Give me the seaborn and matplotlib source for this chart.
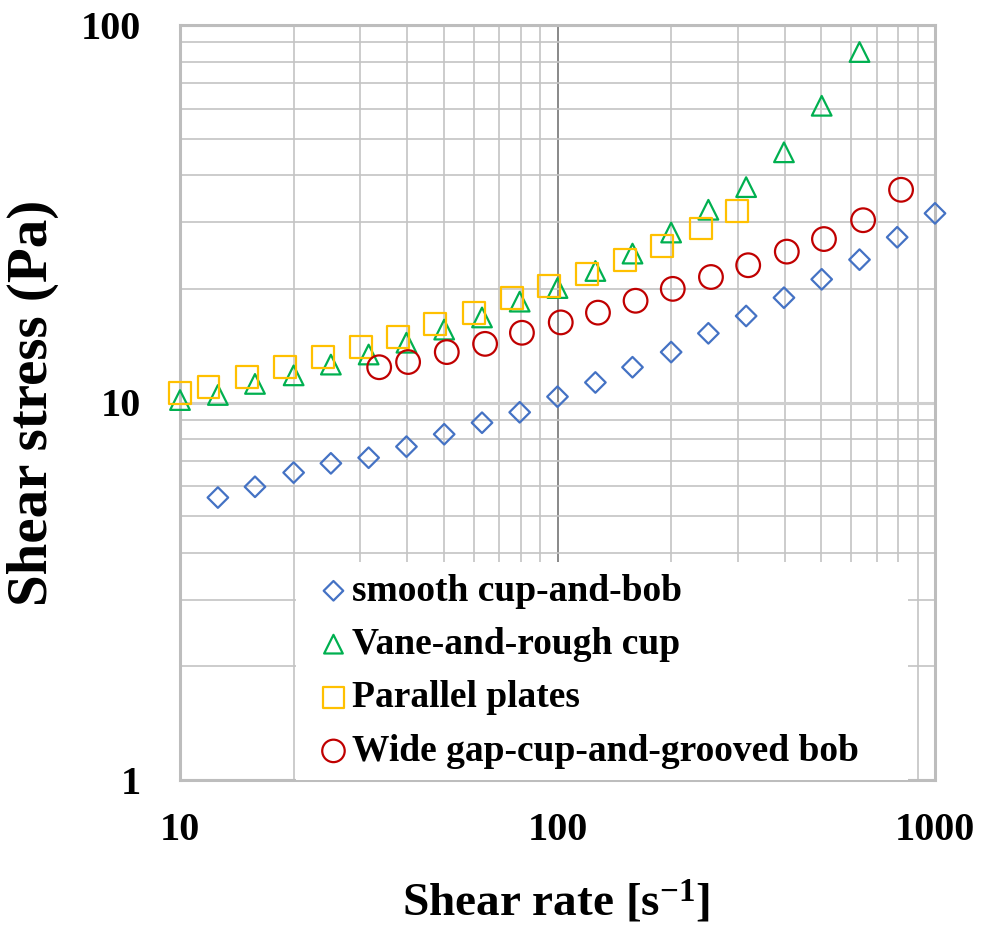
import numpy as np
import pandas as pd
import matplotlib
matplotlib.use("Agg")
import matplotlib.pyplot as plt
import seaborn as sns
from matplotlib.ticker import FixedLocator, NullFormatter

# ---------------- data ----------------
smooth_x = [12.6, 15.8, 20.0, 25.1, 31.6, 39.8, 50.1, 63.1, 79.4, 100,
            126, 158, 200, 251, 316, 398, 501, 631, 794, 1000]
smooth_y = [5.60, 5.98, 6.52, 6.90, 7.14, 7.64, 8.24, 8.84, 9.42, 10.36,
            11.3, 12.4, 13.6, 15.25, 16.95, 18.95, 21.2, 23.9, 27.4, 31.7]

vane_x = [10.0, 12.6, 15.8, 20.0, 25.1, 31.6, 39.8, 50.1, 63.1, 79.4,
          100, 126, 158, 200, 251, 316, 398, 501, 631]
vane_y = [10.15, 10.47, 11.2, 11.8, 12.6, 13.4, 14.4, 15.6, 16.8, 18.5,
          20.1, 22.3, 24.8, 28.2, 32.4, 37.2, 46.0, 61.1, 84.8]

plates_x = [10.0, 11.9, 15.05, 19.0, 23.9, 30.2, 37.8, 47.4, 60.1, 75.8,
            95.0, 119.7, 151, 189, 240, 299]
plates_y = [10.6, 11.0, 11.7, 12.4, 13.2, 14.06, 14.9, 16.1, 17.3, 18.9,
            20.3, 21.9, 23.9, 26.0, 28.9, 32.2]

wide_x = [33.7, 40.2, 50.9, 64.3, 80.5, 102, 128, 161, 202, 255,
          320, 405, 508, 645, 813]
wide_y = [12.4, 12.8, 13.6, 14.3, 15.3, 16.3, 17.3, 18.6, 20.0, 21.5,
          23.1, 25.1, 27.1, 30.4, 36.6]

labels = ["smooth cup-and-bob", "Vane-and-rough cup", "Parallel plates",
          "Wide gap-cup-and-grooved bob"]
x_ticks = [10, 100, 1000]
x_tick_labels = ["10", "100", "1000"]
y_ticks = [1, 10, 100]
y_tick_labels = ["1", "10", "100"]

# ---------------- style ----------------
sns.set_theme(style="white")
plt.rcParams["font.family"] = ["Liberation Serif", "DejaVu Serif"]
plt.rcParams["font.weight"] = "bold"
plt.rcParams["text.color"] = "black"
plt.rcParams["axes.labelcolor"] = "black"
plt.rcParams["xtick.color"] = "black"
plt.rcParams["ytick.color"] = "black"
plt.rcParams["mathtext.fontset"] = "custom"
plt.rcParams["mathtext.rm"] = "Liberation Serif:bold"
plt.rcParams["mathtext.it"] = "Liberation Serif:bold"
plt.rcParams["mathtext.bf"] = "Liberation Serif:bold"
plt.rcParams["mathtext.default"] = "rm"

fig, ax = plt.subplots(figsize=(9.92, 9.25), dpi=100)
fig.subplots_adjust(left=180/992, right=935/992, bottom=1-780/925, top=1-25/925)

series = [
    (smooth_x, smooth_y, "D", "#4472C4", 110, labels[0]),
    (vane_x, vane_y, "^", "#00B050", 200, labels[1]),
    (plates_x, plates_y, "s", "#FFC000", 250, labels[2]),
    (wide_x, wide_y, "o", "#C00000", 290, labels[3]),
]
for xs, ys, m, c, s, lab in series:
    df = pd.DataFrame({"x": xs, "y": ys})
    sns.scatterplot(data=df, x="x", y="y", ax=ax, marker=m, s=s,
                    facecolor="none", edgecolor=c, linewidth=1.6,
                    label=lab, zorder=3, clip_on=False)

ax.set_xscale("log")
ax.set_yscale("log")
ax.set_xlim(10, 1000)
ax.set_ylim(1, 100)

ax.xaxis.set_major_locator(FixedLocator(x_ticks))
ax.set_xticklabels(x_tick_labels)
ax.yaxis.set_major_locator(FixedLocator(y_ticks))
ax.set_yticklabels(y_tick_labels)
minor = [k * 10**e for e in range(0, 3) for k in range(2, 10)]
ax.xaxis.set_minor_locator(FixedLocator(minor))
ax.yaxis.set_minor_locator(FixedLocator(minor))
ax.xaxis.set_minor_formatter(NullFormatter())
ax.yaxis.set_minor_formatter(NullFormatter())

ax.set_axisbelow(True)
ax.grid(which="minor", color="#c4c4c4", linewidth=1.2)
ax.xaxis.grid(which="major", color="#7f7f7f", linewidth=1.3)
ax.yaxis.grid(which="major", color="#cfcfcf", linewidth=2.2)

ax.tick_params(which="both", length=0)
ax.tick_params(axis="x", labelsize=29, pad=23)
ax.tick_params(axis="y", labelsize=29, pad=28)
for t in ax.get_xticklabels() + ax.get_yticklabels():
    t.set_fontweight("bold")

for sp in ax.spines.values():
    sp.set_color("#bdbdbd")
    sp.set_linewidth(2.2)

ax.set_xlabel(r"Shear rate [s$^{-1}$]", fontsize=34, fontweight="bold")
ax.set_ylabel("Shear stress (Pa)", fontsize=41, fontweight="bold")
ax.xaxis.set_label_coords(0.498, -0.131)
ax.yaxis.set_label_coords(-0.16, 0.5)

leg = ax.legend(loc="lower left", bbox_to_anchor=(0.1536, 0.0, 0.81, 0.29),
                mode="expand", borderaxespad=0, borderpad=0.3,
                handlelength=1.4, handletextpad=-0.2, labelspacing=0.49,
                markerscale=0.95, frameon=True, fancybox=False,
                framealpha=1, facecolor="white", edgecolor="white",
                prop={"family": "Liberation Serif", "weight": "bold", "size": 27})
leg.get_frame().set_linewidth(0)
for t in leg.get_texts():
    t.set_color("black")

fig.savefig("out.png", dpi=100)
